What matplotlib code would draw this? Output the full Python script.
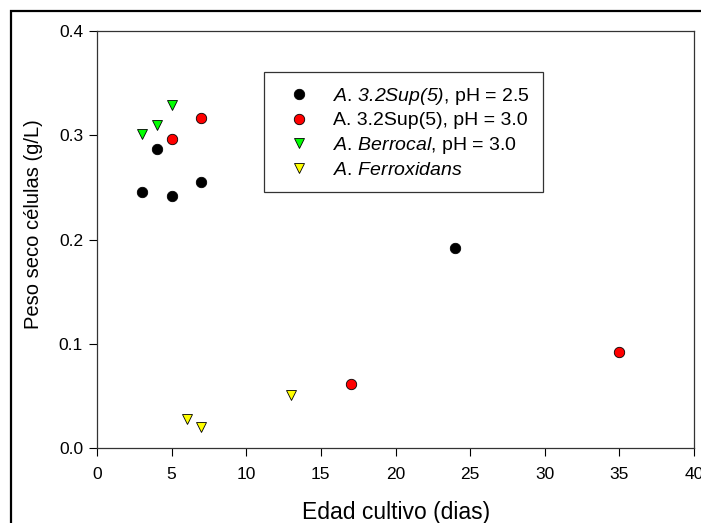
import matplotlib
matplotlib.use('Agg')
import matplotlib.pyplot as plt
from matplotlib.patches import Rectangle

plt.rcParams['font.family'] = ['Liberation Sans', 'DejaVu Sans']
plt.rcParams['mathtext.fontset'] = 'custom'
# todo lo que va entre $..$ sale en cursiva (tambien los numeros)
plt.rcParams['mathtext.rm'] = 'Liberation Sans:italic'
plt.rcParams['mathtext.it'] = 'Liberation Sans:italic'

# datos
x_sup25 = [3, 4, 5, 7, 24]
y_sup25 = [0.246, 0.287, 0.242, 0.255, 0.192]
x_sup30 = [5, 7, 17, 35]
y_sup30 = [0.296, 0.317, 0.061, 0.092]
x_berr = [3, 4, 5]
y_berr = [0.301, 0.310, 0.329]
x_ferr = [6, 7, 13]
y_ferr = [0.028, 0.020, 0.051]

xticks = [0, 5, 10, 15, 20, 25, 30, 35, 40]
yticks = [0.0, 0.1, 0.2, 0.3, 0.4]

W, H = 701, 523
fig = plt.figure(figsize=(W/100, H/100), dpi=100)
ax = fig.add_axes([97/W, 1-448/H, 597/W, 417/H])

# marco exterior
fig.patches.append(Rectangle((11/W, -0.1), 1.2, 1-11/H+0.1, transform=fig.transFigure,
                             fill=False, ec='black', lw=1.6, clip_on=False))

ms = 7.5
ax.plot(x_sup25, y_sup25, 'o', ms=ms, mfc='black', mec='black', mew=0.6,
        label=r'$A$. $3.2Sup(5)$, pH = 2.5')
ax.plot(x_sup30, y_sup30, 'o', ms=ms, mfc='#ff0000', mec='black', mew=0.6,
        label='A. 3.2Sup(5), pH = 3.0')
ax.plot(x_berr, y_berr, 'v', ms=ms, mfc='#00ff00', mec='black', mew=0.6,
        label=r'$A$. $Berrocal$, pH = 3.0')
ax.plot(x_ferr, y_ferr, 'v', ms=ms, mfc='#ffff00', mec='black', mew=0.6,
        label=r'$A$. $Ferroxidans$')

ax.set_xlim(0, 40)
ax.set_ylim(0, 0.4)
ax.set_xticks(xticks)
ax.set_yticks(yticks)
ax.set_xticklabels([str(t) for t in xticks])
ax.set_yticklabels(['%.1f' % t for t in yticks])
ax.tick_params(direction='out', length=6, width=0.8, labelsize=12.5, colors='black', pad=4)
ax.xaxis.set_tick_params(pad=8)
for s in ax.spines.values():
    s.set_linewidth(0.9)
    s.set_color('#333333')

# etiquetas de ejes puestas a mano
fig.text(396/W, 1-519/H, 'Edad cultivo (dias)', fontsize=16.5, ha='center', va='baseline')
fig.text(34/W, 1-224/H, 'Peso seco células (g/L)', fontsize=14.5, rotation=90,
         ha='center', va='center')

leg = ax.legend(loc='upper left', bbox_to_anchor=(264/W, 1-72/H), bbox_transform=fig.transFigure,
                fontsize=14, frameon=True, fancybox=False, borderaxespad=0,
                handletextpad=0.7, labelspacing=0.27, borderpad=0.7, handlelength=2.15)
leg.get_frame().set_edgecolor('black')
leg.get_frame().set_linewidth(0.9)

fig.savefig('out.png', dpi=100)
